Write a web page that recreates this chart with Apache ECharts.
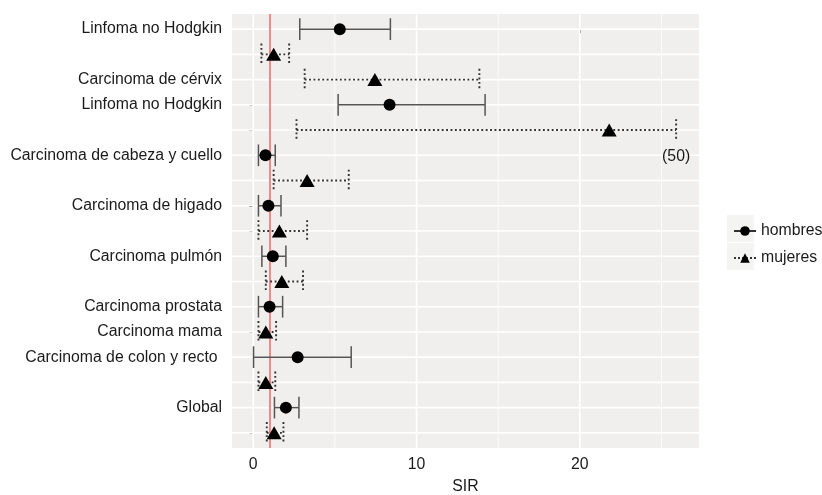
<!DOCTYPE html>
<html>
<head>
<meta charset="utf-8">
<script src="https://cdn.jsdelivr.net/npm/echarts@6/dist/echarts.min.js"></script>
<style>
    html, body { margin:0; padding:0; background:#fff; }
    #main { width:822px; height:495px; }
</style>
</head>
<body>
<div id="main"></div>
<script>
    // filas de arriba a abajo
    var rowLabels = ['Linfoma no Hodgkin', '', 'Carcinoma de cérvix', 'Linfoma no Hodgkin', '',
        'Carcinoma de cabeza y cuello', '', 'Carcinoma de higado', '', 'Carcinoma pulmón', '',
        'Carcinoma prostata', 'Carcinoma mama', 'Carcinoma de colon y recto ', '', 'Global', ''];
    var rowSex = ['h','m','m','h','m','h','m','h','m','h','m','h','m','h','m','h','m'];
    var sirPoint = [5.3, 1.25, 7.45, 8.35, 21.8, 0.75, 3.3, 0.93, 1.6, 1.2, 1.75, 1.0, 0.77, 2.72, 0.77, 2.0, 1.28];
    var ciLow    = [2.85, 0.5, 3.15, 5.2, 2.65, 0.32, 1.25, 0.32, 0.32, 0.53, 0.77, 0.32, 0.32, 0.02, 0.32, 1.3, 0.83];
    var ciHigh   = [8.4, 2.2, 13.85, 14.2, 25.9, 1.35, 5.85, 1.7, 3.3, 2.0, 3.05, 1.8, 1.4, 6.0, 1.35, 2.8, 1.85];
    var rowNotes = ['', '', '', '', '(50)', '', '', '', '', '', '', '', '', '', '', '', ''];

    var xTicks = [0, 10, 20];
    var xMinor = [5, 15, 25];
    var refLine = 1;

    var rowIdx = rowLabels.map(function (l, i) { return i; });

    var myChart = echarts.init(document.getElementById('main'));
    var font = 'Liberation Sans';
    var fs = 15.8;
    var yMin = -0.6, yMax = 16.6, xMin = -1.3, xMax = 27.3;

    var barData = rowIdx.map(function (i) { return [ciLow[i], ciHigh[i], i]; });
    function pts(sex) {
        var out = [];
        rowIdx.forEach(function (i) { if (rowSex[i] === sex) out.push([sirPoint[i], i]); });
        return out;
    }

    // rejilla tipo ggplot
    function vLines(vals, w, z) {
        return {
            type: 'custom', silent: true, z: z, data: vals.map(function (v) { return [v]; }),
            encode: { x: 0 },
            renderItem: function (params, api) {
                var a = api.coord([api.value(0), yMin]);
                var b = api.coord([api.value(0), yMax]);
                return { type: 'line', shape: { x1: a[0], y1: a[1], x2: b[0], y2: b[1] },
                    style: { stroke: '#fff', lineWidth: w } };
            }
        };
    }
    var hGrid = {
        type: 'custom', silent: true, z: 1, data: rowIdx.map(function (i) { return [i]; }),
        encode: { y: 0 },
        renderItem: function (params, api) {
            var a = api.coord([xMin, api.value(0)]);
            var b = api.coord([xMax, api.value(0)]);
            return { type: 'line', shape: { x1: a[0], y1: a[1], x2: b[0], y2: b[1] },
                style: { stroke: '#fff', lineWidth: 1.6 } };
        }
    };

    var option = {
        animation: false,
        grid: { left: 232, top: 14, right: 123, bottom: 47, show: true, backgroundColor: '#f0efed', borderWidth: 0,
            outerBoundsMode: 'none', containLabel: false },
        graphic: [
            { type: 'rect', left: 727, top: 215, shape: { width: 27, height: 27 }, style: { fill: '#f4f4f3' }, z: -1 },
            { type: 'rect', left: 727, top: 243, shape: { width: 27, height: 27 }, style: { fill: '#f4f4f3' }, z: -1 }
        ],
        xAxis: {
            type: 'value', min: xMin, max: xMax,
            name: 'SIR', nameLocation: 'middle', nameGap: 31,
            nameTextStyle: { fontFamily: font, fontSize: fs, color: '#1a1a1a' },
            axisLine: { show: false },
            splitLine: { show: false },
            axisTick: { show: true, customValues: xTicks, length: 4, lineStyle: { color: '#444' } },
            axisLabel: { customValues: xTicks, fontFamily: font, fontSize: fs, color: '#1a1a1a', margin: 9 }
        },
        yAxis: {
            type: 'value', min: yMin, max: yMax, inverse: true,
            axisLine: { show: false },
            splitLine: { show: false },
            axisTick: { show: true, customValues: rowIdx, length: 4, lineStyle: { color: '#444' } },
            axisLabel: {
                customValues: rowIdx, fontFamily: font, fontSize: fs, color: '#1a1a1a', margin: 10,
                formatter: function (v) { return rowLabels[v] || ''; }
            }
        },
        legend: {
            left: 728, top: 218, orient: 'vertical', itemWidth: 22, itemHeight: 12, itemGap: 11,
            data: ['hombres', 'mujeres'],
            textStyle: { fontFamily: font, fontSize: fs, color: '#1a1a1a' },
            lineStyle: { opacity: 1 }
        },
        series: [
            vLines(xMinor, 0.8, 1),
            vLines(xTicks, 1.6, 1),
            hGrid,
            {
                type: 'line', data: [], silent: true, zlevel: 1, z: 1,
                markLine: {
                    silent: true, symbol: 'none', label: { show: false }, animation: false,
                    data: [{ xAxis: refLine, lineStyle: { color: '#f28a8a', width: 2, type: 'solid' } }]
                }
            },
            {
                type: 'custom', data: barData, zlevel: 1, z: 3, silent: true,
                encode: { x: [0, 1], y: 2 },
                renderItem: function (params, api) {
                    var i = api.value(2);
                    var lo = api.coord([api.value(0), i]);
                    var hi = api.coord([api.value(1), i]);
                    var hh = api.size([0, 1])[1] * 0.43;
                    var st = rowSex[i] === 'm'
                        ? { stroke: '#333', lineWidth: 1.9, lineDash: [1.9, 2.5] }
                        : { stroke: '#555', lineWidth: 1.5 };
                    var kids = [
                        { type: 'line', shape: { x1: lo[0], y1: lo[1], x2: hi[0], y2: hi[1] }, style: st },
                        { type: 'line', shape: { x1: lo[0], y1: lo[1] - hh, x2: lo[0], y2: lo[1] + hh }, style: st },
                        { type: 'line', shape: { x1: hi[0], y1: hi[1] - hh, x2: hi[0], y2: hi[1] + hh }, style: st }
                    ];
                    if (rowNotes[i]) {
                        var below = api.coord([api.value(1), i + 1]);
                        kids.push({ type: 'text', x: below[0], y: below[1] + 1,
                            style: { text: rowNotes[i], align: 'center', verticalAlign: 'middle',
                                font: fs + 'px "Liberation Sans"', fill: '#1a1a1a' } });
                    }
                    return { type: 'group', children: kids };
                }
            },
            {
                name: 'hombres', type: 'line', data: pts('h'), zlevel: 1, z: 4,
                symbol: 'circle', symbolSize: 12, showAllSymbol: true,
                itemStyle: { color: '#000' },
                lineStyle: { color: '#333', width: 1.5, type: 'solid', opacity: 0 }
            },
            {
                name: 'mujeres', type: 'line', data: pts('m'), zlevel: 1, z: 4,
                symbol: 'triangle', symbolSize: [15, 13], showAllSymbol: true,
                itemStyle: { color: '#000' },
                lineStyle: { color: '#333', width: 1.8, type: 'dotted', opacity: 0 }
            }
        ]
    };
    myChart.setOption(option);
</script>
</body>
</html>
